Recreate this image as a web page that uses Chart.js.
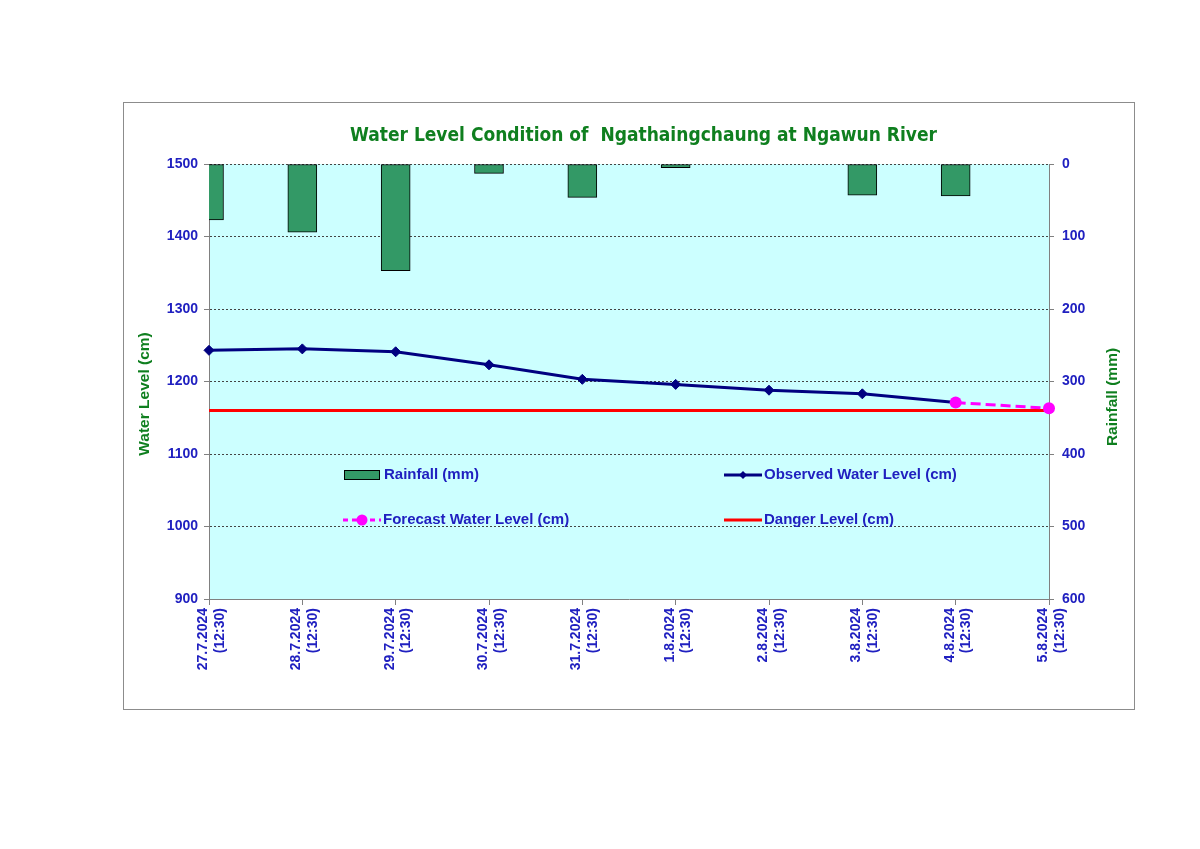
<!DOCTYPE html>
<html>
<head>
<meta charset="utf-8">
<script src="https://cdn.jsdelivr.net/npm/chart.js@4/dist/chart.umd.min.js"></script>
<style>
  html, body { margin: 0; padding: 0; background: #ffffff; }
  #wrap { width: 1200px; height: 849px; position: relative; }
</style>
</head>
<body>
<div id="wrap"><canvas id="c" width="1200" height="849"></canvas></div>
<script>
// ---- data ----
const categories = [
  ['27.7.2024', '(12:30)'], ['28.7.2024', '(12:30)'], ['29.7.2024', '(12:30)'],
  ['30.7.2024', '(12:30)'], ['31.7.2024', '(12:30)'], ['1.8.2024', '(12:30)'],
  ['2.8.2024', '(12:30)'], ['3.8.2024', '(12:30)'], ['4.8.2024', '(12:30)'],
  ['5.8.2024', '(12:30)']
];
const rainfall = [77, 94, 147, 13, 46, 5, 0, 43, 44, null];
const observedLevel = [1243, 1245, 1241, 1223, 1203, 1196, 1188, 1183, 1171, null];
const forecastLevel = [null, null, null, null, null, null, null, null, 1171, 1163];
const dangerLevel = [1160, 1160, 1160, 1160, 1160, 1160, 1160, 1160, 1160, 1160];
const levelTicks = [900, 1000, 1100, 1200, 1300, 1400, 1500];
const rainTicks = [0, 100, 200, 300, 400, 500, 600];

const chartTitle = 'Water Level Condition of  Ngathaingchaung at Ngawun River';
const leftTitle = 'Water Level (cm)';
const rightTitle = 'Rainfall (mm)';

const BLUE = '#2020c0';
const GREEN = '#0f7f1f';
const TICKFONT = { family: '"Liberation Sans", Arial, sans-serif', size: 14, weight: 'bold' };

const decor = {
  id: 'decor',
  beforeDraw(chart) {
    const { ctx, chartArea: a } = chart;
    ctx.save();
    ctx.fillStyle = '#ffffff';
    ctx.fillRect(0, 0, chart.width, chart.height);
    ctx.strokeStyle = '#8c8c8c';
    ctx.lineWidth = 1;
    ctx.strokeRect(123.5, 102.5, 1011, 607);
    ctx.fillStyle = '#ccffff';
    ctx.fillRect(a.left, a.top, a.right - a.left, a.bottom - a.top);
    ctx.restore();
  },
  afterDraw(chart) {
    const { ctx } = chart;
    ctx.save();
    // chart title
    ctx.fillStyle = GREEN;
    ctx.font = 'bold 19px "DejaVu Sans Condensed", "DejaVu Sans", sans-serif';
    ctx.textAlign = 'center';
    ctx.textBaseline = 'middle';
    ctx.fillText(chartTitle, 643.5, 136);

    // axis titles
    ctx.font = 'bold 15.5px "Liberation Sans", Arial, sans-serif';
    ctx.save(); ctx.translate(145, 394); ctx.rotate(-Math.PI / 2); ctx.fillText(leftTitle, 0, 0); ctx.restore();
    ctx.save(); ctx.translate(1113, 397); ctx.rotate(-Math.PI / 2); ctx.fillText(rightTitle, 0, 0); ctx.restore();

    // legend
    const ds = chart.data.datasets;
    ctx.font = 'bold 15px "Liberation Sans", Arial, sans-serif';
    ctx.textAlign = 'left';
    ctx.textBaseline = 'middle';
    const items = [
      { i: 0, x: 344, y: 475 },
      { i: 1, x: 724, y: 475 },
      { i: 2, x: 343, y: 520 },
      { i: 3, x: 724, y: 520 }
    ];
    items.forEach(it => {
      const d = ds[it.i];
      if (d.type === 'bar') {
        ctx.fillStyle = d.backgroundColor;
        ctx.fillRect(it.x, it.y - 4.5, 36, 9);
        ctx.strokeStyle = '#000000';
        ctx.lineWidth = 1;
        ctx.strokeRect(it.x + 0.5, it.y - 4.5, 35, 9);
      } else {
        ctx.strokeStyle = d.borderColor;
        ctx.lineWidth = d.borderWidth;
        ctx.setLineDash(d.borderDash ? [5, 4] : []);
        ctx.beginPath(); ctx.moveTo(it.x, it.y); ctx.lineTo(it.x + 38, it.y); ctx.stroke();
        ctx.setLineDash([]);
        if (d.pointRadius > 0) {
          ctx.fillStyle = d.pointBackgroundColor;
          const cx = it.x + 19, r = d.pointStyle === 'rectRot' ? 4 : 5.5;
          ctx.beginPath();
          if (d.pointStyle === 'rectRot') {
            ctx.moveTo(cx, it.y - r); ctx.lineTo(cx + r, it.y); ctx.lineTo(cx, it.y + r); ctx.lineTo(cx - r, it.y); ctx.closePath();
          } else {
            ctx.arc(cx, it.y, r, 0, Math.PI * 2);
          }
          ctx.fill();
        }
      }
      ctx.fillStyle = BLUE;
      ctx.fillText(d.label, it.x + 40, it.y);
    });
    ctx.restore();
  }
};

new Chart(document.getElementById('c'), {
  data: {
    labels: categories,
    datasets: [
      {
        type: 'bar', label: 'Rainfall (mm)', data: rainfall, yAxisID: 'y1',
        backgroundColor: '#339966', borderColor: '#000000', borderWidth: 1,
        borderSkipped: false, barThickness: 29, clip: 0, order: 4
      },
      {
        type: 'line', label: 'Observed Water Level (cm)', data: observedLevel, yAxisID: 'y',
        borderColor: '#000080', backgroundColor: '#000080', borderWidth: 3,
        pointStyle: 'rectRot', pointRadius: 5, pointBackgroundColor: '#000080', pointBorderColor: '#000080',
        pointBorderWidth: 1, tension: 0, order: 1
      },
      {
        type: 'line', label: 'Forecast Water Level (cm)', data: forecastLevel, yAxisID: 'y',
        borderColor: '#ff00ff', backgroundColor: '#ff00ff', borderWidth: 3, borderDash: [10, 5],
        pointStyle: 'circle', pointRadius: 6, pointBackgroundColor: '#ff00ff', pointBorderColor: '#ff00ff',
        pointBorderWidth: 0, tension: 0, order: 0
      },
      {
        type: 'line', label: 'Danger Level (cm)', data: dangerLevel, yAxisID: 'y',
        borderColor: '#ff0000', backgroundColor: '#ff0000', borderWidth: 3,
        pointRadius: 0, pointBackgroundColor: '#ff0000', tension: 0, order: 2
      }
    ]
  },
  options: {
    responsive: false,
    animation: false,
    layout: { padding: { left: 124, right: 66, top: 164, bottom: 140 } },
    plugins: {
      legend: { display: false },
      tooltip: { enabled: false },
      title: { display: false }
    },
    scales: {
      x: {
        type: 'category', offset: false,
        grid: { drawOnChartArea: false, tickLength: 6, color: '#808080', offset: false },
        border: { color: '#808080', width: 1 },
        ticks: { autoSkip: false, minRotation: 90, maxRotation: 90, padding: 3, labelOffset: -6, color: BLUE, font: TICKFONT },
        afterFit: s => { s.height = 110; }
      },
      y: {
        position: 'left', min: 900, max: 1500,
        afterBuildTicks: s => { s.ticks = levelTicks.map(v => ({ value: v })); },
        grid: { color: '#444444', tickLength: 5, tickColor: '#808080', tickBorderDash: [] },
        border: { color: '#808080', width: 1, dash: [2, 2] },
        ticks: { padding: 6, color: BLUE, font: TICKFONT, callback: v => String(v) },
        afterFit: s => { s.width = 85; }
      },
      y1: {
        position: 'right', min: 0, max: 600, reverse: true,
        afterBuildTicks: s => { s.ticks = rainTicks.map(v => ({ value: v })); },
        grid: { drawOnChartArea: false, tickLength: 5, color: '#808080' },
        border: { color: '#808080', width: 1 },
        ticks: { padding: 8, color: BLUE, font: TICKFONT, callback: v => String(v) },
        afterFit: s => { s.width = 85; }
      }
    }
  },
  plugins: [decor]
});
</script>
</body>
</html>
